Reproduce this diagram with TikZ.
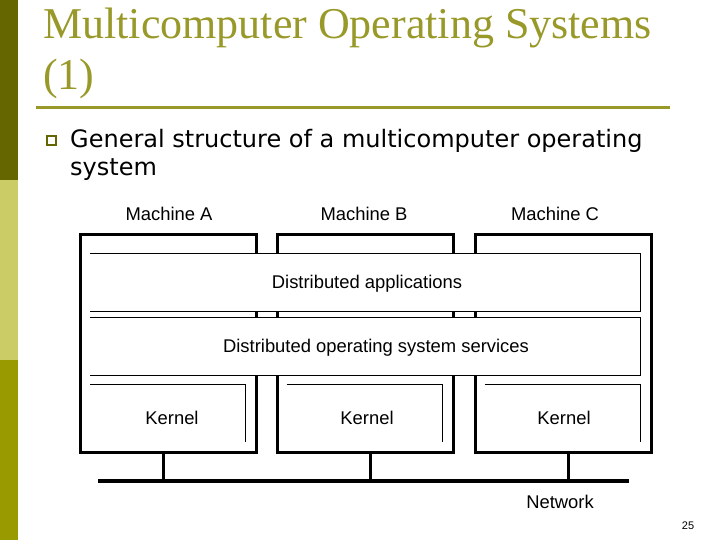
\documentclass[tikz,border=0pt]{standalone}
\usepackage{fontspec}
\setmainfont{Liberation Serif}
\newfontfamily\diagfont{Liberation Sans}
\newfontfamily\bodyfont{DejaVu Sans}
\usetikzlibrary{positioning}
\definecolor{barDark}{HTML}{666600}
\definecolor{barLight}{HTML}{CCCC66}
\definecolor{barMid}{HTML}{999900}
\definecolor{titleCol}{HTML}{99992A}

\tikzset{
  machine/.style={draw, line width=3pt, minimum width=176pt, minimum height=218pt, inner sep=0pt},
  layer/.style={draw=none, fill=white, minimum width=550pt, minimum height=57pt, inner sep=0pt},
  kernel/.style={draw=none, minimum width=155pt, minimum height=57pt, inner sep=0pt},
  lbl/.style={inner sep=0pt, font=\diagfont\fontsize{18.4}{22}\selectfont},
  thinedge/.style={line width=1pt},
  wire/.style={line width=3pt}
}

\begin{document}
\begin{tikzpicture}[x=1pt, y=-1pt]
  \useasboundingbox (0,0) rectangle (720,540);
  % side bar
  \fill[barDark] (0,0) rectangle (18,180);
  \fill[barLight] (0,180) rectangle (18,360);
  \fill[barMid] (0,360) rectangle (18,540);

  % title
  \node[anchor=base west, inner sep=0pt, text=titleCol, font=\fontsize{44}{53}\selectfont] (title) at (43,39) {Multicomputer Operating Systems};
  \node[anchor=base west, inner sep=0pt, text=titleCol, font=\fontsize{44}{53}\selectfont] (titleb) at (43,90) {(1)};
  \draw[titleCol, line width=3pt] (36,108) -- (670,108);

  % bullet
  \node[draw=barDark, fill=white, line width=2pt, minimum size=9pt, inner sep=0pt] (bul) at (51.5,140.5) {};
  \node[anchor=base west, inner sep=0pt, align=left, font=\bodyfont\fontsize{24}{28}\selectfont] (point) at (70,176) {General structure of a multicomputer operating\\system};

  % machines
  \node[machine] (mA) at (168,343) {};
  \node[machine] (mB) at (365,343) {};
  \node[machine] (mC) at (563.5,343) {};
  \node[lbl] (labA) at (169,214) {Machine A};
  \node[lbl] (labB) at (364,214) {Machine B};
  \node[lbl] (labC) at (555,214) {Machine C};

  % shared layers, open on the left
  \node[layer] (apps) at (365,282.5) {};
  \node[layer] (svc) at (365,346.5) {};
  \draw[thinedge] (apps.north west) -- (apps.north east) -- (apps.south east) -- (apps.south west);
  \draw[thinedge] (svc.north west) -- (svc.north east) -- (svc.south east) -- (svc.south west);
  \node[lbl] (appsText) at (367,284) {Distributed applications};
  \node[lbl] (svcText) at (376,348) {Distributed operating system services};

  % kernels
  \node[kernel] (kA) at (168,413.5) {};
  \node[kernel] (kB) at (364.5,413.5) {};
  \node[kernel] (kC) at (562.5,413.5) {};
  \foreach \k in {kA,kB,kC}
    \draw[thinedge] (\k.north west) -- (\k.north east) -- (\k.south east);
  \node[lbl] (kAText) at (172,418) {Kernel};
  \node[lbl] (kBText) at (367,418) {Kernel};
  \node[lbl] (kCText) at (564,418) {Kernel};

  % network
  \coordinate (netL) at (98,481);
  \coordinate (netR) at (629,481);
  \coordinate (tA) at (163,481);
  \coordinate (tB) at (370,481);
  \coordinate (tC) at (568,481);
  \draw[line width=3.3pt] (netL) -- (netR);
  \draw[wire] (tA |- mA.south) -- (tA);
  \draw[wire] (tB |- mB.south) -- (tB);
  \draw[wire] (tC |- mC.south) -- (tC);
  \node[lbl] (net) at (560,502) {Network};

  \node[inner sep=0pt, font=\diagfont\fontsize{11}{13}\selectfont] (page) at (688,526) {25};
\end{tikzpicture}
\end{document}
